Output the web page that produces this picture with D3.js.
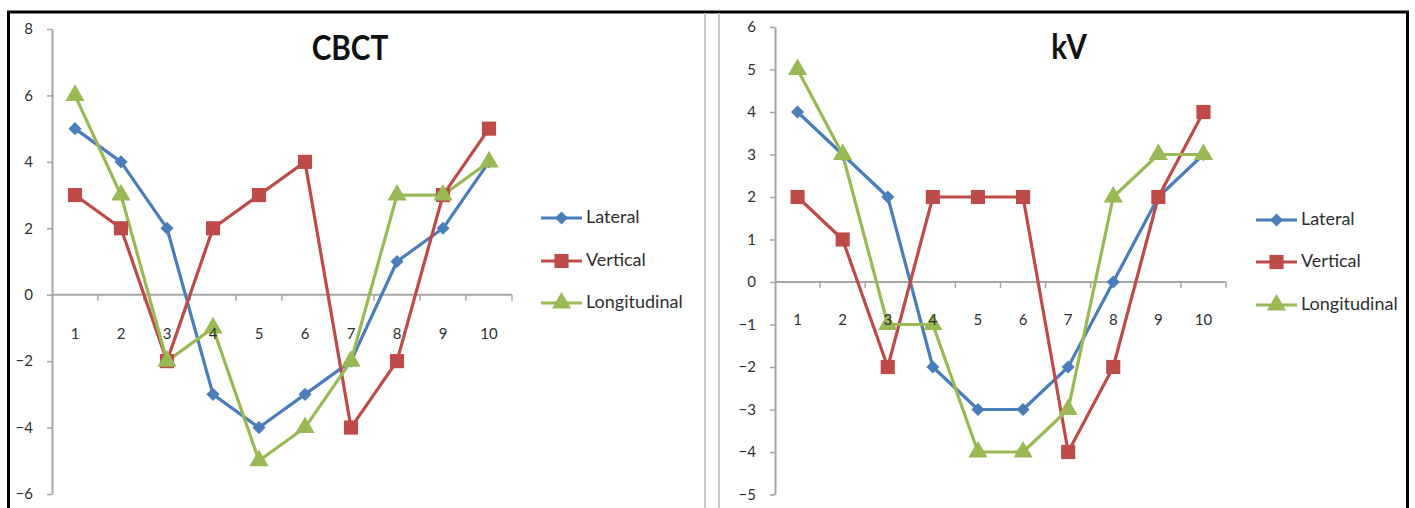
<!DOCTYPE html>
<html>
<head>
<meta charset="utf-8">
<script src="https://cdn.jsdelivr.net/npm/d3@7"></script>
<style>
  html, body { margin: 0; padding: 0; background: #fff; }
  svg { display: block; }
  text { font-family: Lato, "Open Sans", sans-serif; }
</style>
</head>
<body>
<svg id="chart" width="1415" height="508"></svg>
<script>
// ---------- data ----------
const categories = [1, 2, 3, 4, 5, 6, 7, 8, 9, 10];
const seriesNames = ["Lateral", "Vertical", "Longitudinal"];

const cbctLateral      = [5, 4, 2, -3, -4, -3, -2, 1, 2, 4];
const cbctVertical     = [3, 2, -2, 2, 3, 4, -4, -2, 3, 5];
const cbctLongitudinal = [6, 3, -2, -1, -5, -4, -2, 3, 3, 4];

const kvLateral      = [4, 3, 2, -2, -3, -3, -2, 0, 2, 3];
const kvVertical     = [2, 1, -2, 2, 2, 2, -4, -2, 2, 4];
const kvLongitudinal = [5, 3, -1, -1, -4, -4, -3, 2, 3, 3];

const cbctTicks = [-6, -4, -2, 0, 2, 4, 6, 8];
const kvTicks = [-5, -4, -3, -2, -1, 0, 1, 2, 3, 4, 5, 6];

// ---------- styles ----------
const colors = { Lateral: "#4a7ebb", Vertical: "#be4b48", Longitudinal: "#98b954" };
const symbols = { Lateral: d3.symbolDiamond2, Vertical: d3.symbolSquare, Longitudinal: d3.symbolTriangle };
const symSize = { Lateral: 110, Vertical: 200, Longitudinal: 160 };
const axisColor = "#a6a6a6";
const textColor = "#2f2f2f";

const svg = d3.select("#chart");

// outer frame
svg.append("line").attr("x1", 7).attr("x2", 1409).attr("y1", 12).attr("y2", 12)
  .attr("stroke", "#000").attr("stroke-width", 3);
svg.append("line").attr("x1", 8.5).attr("x2", 8.5).attr("y1", 11).attr("y2", 508)
  .attr("stroke", "#000").attr("stroke-width", 3);
svg.append("line").attr("x1", 1407.5).attr("x2", 1407.5).attr("y1", 11).attr("y2", 508)
  .attr("stroke", "#000").attr("stroke-width", 3);
// panel separators
[705, 719].forEach(x => {
  svg.append("line").attr("x1", x).attr("x2", x).attr("y1", 13).attr("y2", 508)
    .attr("stroke", "#c8c8c8").attr("stroke-width", 2);
});

function drawPanel(cfg) {
  const g = svg.append("g");
  const x = d3.scaleBand().domain(categories).range([cfg.x0, cfg.x1]).padding(0);
  const y = d3.scaleLinear().domain([cfg.ticks[0], cfg.ticks[cfg.ticks.length - 1]]).range([cfg.yBottom, cfg.yTop]);

  // y axis
  const ya = g.append("g").attr("transform", `translate(${cfg.x0},0)`)
    .call(d3.axisLeft(y).tickValues(cfg.ticks).tickSize(5).tickPadding(14).tickSizeOuter(0));
  ya.select(".domain").attr("stroke", axisColor).attr("stroke-width", 2);
  ya.selectAll(".tick line").attr("stroke", axisColor).attr("stroke-width", 1.5);
  ya.selectAll(".tick text").attr("fill", textColor).style("font-size", "15px")
    .style("font-family", "Lato, sans-serif");

  // x axis at zero
  const y0 = y(0);
  g.append("line").attr("x1", cfg.x0).attr("x2", cfg.x1).attr("y1", y0).attr("y2", y0)
    .attr("stroke", axisColor).attr("stroke-width", 2);
  const bounds = categories.map(c => x(c) + x.bandwidth());
  g.selectAll(".xt").data(bounds).enter().append("line")
    .attr("x1", d => d).attr("x2", d => d).attr("y1", y0).attr("y2", y0 + 6)
    .attr("stroke", axisColor).attr("stroke-width", 1.5);

  // series
  cfg.series.forEach((vals, i) => {
    const name = seriesNames[i];
    const pts = vals.map((v, j) => [x(categories[j]) + x.bandwidth() / 2, y(v)]);
    g.append("path").attr("d", d3.line()(pts)).attr("fill", "none")
      .attr("stroke", colors[name]).attr("stroke-width", 3.2).attr("stroke-linejoin", "round");
  });
  cfg.series.forEach((vals, i) => {
    const name = seriesNames[i];
    g.selectAll(null).data(vals).enter().append("path")
      .attr("d", d3.symbol().type(symbols[name]).size(symSize[name]))
      .attr("transform", (v, j) => `translate(${x(categories[j]) + x.bandwidth() / 2},${y(v)})`)
      .attr("fill", colors[name]);
  });

  // category labels drawn over the series
  g.selectAll(".xl").data(categories).enter().append("text")
    .attr("x", d => x(d) + x.bandwidth() / 2).attr("y", y0 + cfg.labelOffset)
    .attr("text-anchor", "middle").attr("dominant-baseline", "middle")
    .attr("fill", textColor).style("font-size", "15px").text(d => d);

  // title
  g.append("text").attr("transform", `translate(${cfg.titleX},${cfg.titleY}) scale(0.9,1.05)`)
    .attr("text-anchor", "middle")
    .attr("fill", "#111").style("font-size", "33px").style("font-weight", "bold").text(cfg.title);

  // legend
  seriesNames.forEach((name, i) => {
    const ly = cfg.legendY[i];
    const lg = g.append("g");
    lg.append("line").attr("x1", cfg.legendX).attr("x2", cfg.legendX + 41)
      .attr("y1", ly).attr("y2", ly).attr("stroke", colors[name]).attr("stroke-width", 3);
    lg.append("path").attr("d", d3.symbol().type(symbols[name]).size(symSize[name]))
      .attr("transform", `translate(${cfg.legendX + 20.5},${ly})`).attr("fill", colors[name]);
    lg.append("text").attr("x", cfg.legendX + 45).attr("y", ly).attr("dominant-baseline", "middle")
      .attr("fill", textColor).style("font-size", "18px").text(name);
  });
}

drawPanel({
  title: "CBCT", titleX: 350, titleY: 60,
  x0: 52, x1: 512, yTop: 29, yBottom: 494, ticks: cbctTicks, labelOffset: 40,
  series: [cbctLateral, cbctVertical, cbctLongitudinal],
  legendX: 541, legendY: [218, 261, 303]
});
drawPanel({
  title: "kV", titleX: 1069, titleY: 59,
  x0: 775, x1: 1226, yTop: 27, yBottom: 494.5, ticks: kvTicks, labelOffset: 39,
  series: [kvLateral, kvVertical, kvLongitudinal],
  legendX: 1256, legendY: [220, 262, 305]
});
</script>
</body>
</html>
